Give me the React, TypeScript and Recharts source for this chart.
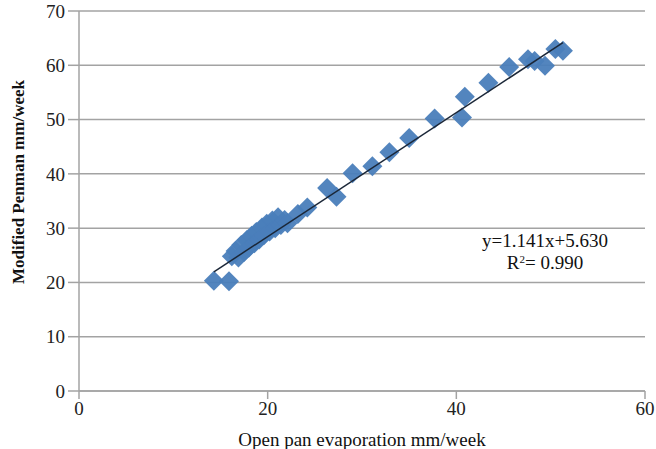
import React from 'react';
import {
  ScatterChart,
  Scatter,
  XAxis,
  YAxis,
  CartesianGrid,
} from 'recharts';

// weekly evaporation: open pan (x) vs modified Penman (y), mm/week
const panEvap = [
  14.3, 15.9, 16.2, 16.6, 16.9, 17.2, 17.5, 17.8, 18.0, 18.3, 18.6, 18.8, 19.1, 19.4, 19.6,
  19.9, 20.2, 20.5, 20.8, 21.1, 21.4, 21.8, 22.1, 23.2, 24.2, 26.3, 27.3, 29.0, 31.1, 32.9,
  35.0, 37.7, 40.6, 40.9, 43.4, 45.6, 47.6, 48.3, 49.4, 50.5, 51.3,
];
const penman = [
  20.3, 20.2, 24.8, 25.8, 24.6, 26.9, 25.6, 27.8, 26.4, 28.6, 27.2, 29.3, 27.9, 30.1, 28.7,
  30.8, 29.4, 31.4, 30.0, 32.0, 30.6, 31.5, 30.9, 32.6, 33.8, 37.4, 35.8, 40.1, 41.4, 44.0,
  46.6, 50.2, 50.4, 54.2, 56.8, 59.7, 61.1, 60.8, 59.9, 63.0, 62.7,
];

const xTicks = [0, 20, 40, 60];
const yTicks = [0, 10, 20, 30, 40, 50, 60, 70];

// linear fit reported on the chart
const slope = 1.141;
const intercept = 5.63;
const rSquared = 0.99;

const points = panEvap.map((x, i) => ({ x, y: penman[i] }));
const xMin = Math.min(...panEvap);
const xMax = Math.max(...panEvap);
const trend = [xMin, xMax].map((x) => ({ x, y: slope * x + intercept }));

const font = '"Liberation Serif", "Times New Roman", serif';
const gridGray = '#a3a3a3';
const markerBlue = '#4a7ebb';

const Diamond = (props: any) => {
  const { cx, cy } = props;
  const r = 10;
  return (
    <polygon
      points={`${cx},${cy - r} ${cx + r},${cy} ${cx},${cy + r} ${cx - r},${cy}`}
      fill={markerBlue}
      fillOpacity={0.95}
    />
  );
};

const YTitle = (props: any) => {
  const { viewBox } = props;
  const x = viewBox.x + 18;
  const y = viewBox.y + viewBox.height / 2 - 19;
  return (
    <text
      x={x}
      y={y}
      transform={`rotate(-90, ${x}, ${y})`}
      textAnchor="middle"
      dominantBaseline="central"
      fontFamily={font}
      fontWeight="bold"
      fontSize={17}
      fill="#111"
    >
      Modified Penman mm/week
    </text>
  );
};

export default function App() {
  const tickStyle = { fontSize: 19, fill: '#222', fontFamily: font };
  return (
    <div style={{ position: 'fixed', left: 0, top: 0, width: 656, height: 449, background: '#fff' }}>
      <ScatterChart width={656} height={449} margin={{ top: 11, right: 11, bottom: 0, left: 0 }}>
        <CartesianGrid horizontal vertical={false} stroke={gridGray} strokeWidth={1.5} />
        <XAxis
          type="number"
          dataKey="x"
          domain={[0, 60]}
          ticks={xTicks}
          height={58}
          stroke={gridGray}
          strokeWidth={1.5}
          tickSize={8}
          tickMargin={3}
          tick={tickStyle}
          label={{
            value: 'Open pan evaporation mm/week',
            position: 'insideBottom',
            offset: 3,
            style: { fontSize: 19, fill: '#111', fontFamily: font },
          }}
        />
        <YAxis
          type="number"
          dataKey="y"
          domain={[0, 70]}
          ticks={yTicks}
          width={79}
          stroke={gridGray}
          strokeWidth={1.5}
          tickSize={11}
          tickMargin={3}
          tick={tickStyle}
          label={<YTitle />}
        />
        <Scatter data={points} shape={<Diamond />} isAnimationActive={false} />
        <Scatter
          data={trend}
          line={{ stroke: '#1b2738', strokeWidth: 1.5 }}
          shape={() => null}
          isAnimationActive={false}
        />
      </ScatterChart>
      <div
        style={{
          position: 'absolute',
          left: 465,
          top: 230,
          width: 160,
          textAlign: 'center',
          fontFamily: font,
          fontSize: 19,
          lineHeight: '22px',
          color: '#111',
          background: '#fff',
        }}
      >
        <div>
          y={slope.toFixed(3)}x+{intercept.toFixed(3)}
        </div>
        <div>
          R<sup style={{ fontSize: 11, verticalAlign: 'top', lineHeight: '15px' }}>2</sup>= {rSquared.toFixed(3)}
        </div>
      </div>
    </div>
  );
}
